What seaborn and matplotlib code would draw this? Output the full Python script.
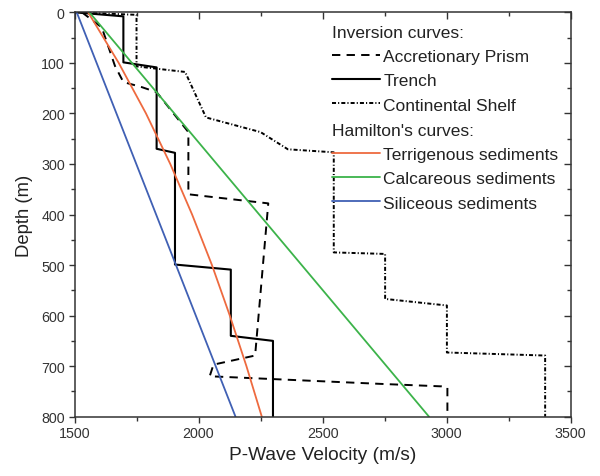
import matplotlib
matplotlib.use("Agg")
import matplotlib.pyplot as plt
import pandas as pd
import seaborn as sns
from matplotlib.ticker import MultipleLocator

# Inversion curves: P-wave velocity (m/s) against depth (m)
prism_velocity = [1530, 1610, 1663, 1697, 1771, 1831, 1959, 1959, 2281, 2228,
                  2060, 2045, 2730, 2980, 3003, 3003]
prism_depth = [0, 30, 106, 138, 148, 158, 237, 360, 378, 679,
               697, 720, 735, 740, 742, 800]

trench_velocity = [1500, 1697, 1697, 1831, 1831, 1905, 1905, 2130, 2130, 2300, 2300]
trench_depth = [0, 8, 99, 109, 270, 278, 499, 509, 640, 650, 800]

shelf_velocity = [1500, 1750, 1750, 1946, 2030, 2250, 2360, 2545, 2545, 2752,
                  2752, 3001, 3001, 3397, 3397]
shelf_depth = [0, 5, 107, 118, 208, 237, 271, 277, 475, 478,
               567, 580, 673, 679, 800]

# Hamilton's curves
terrigenous_depth = [0, 100, 200, 300, 400, 500, 600, 700, 800]
terrigenous_velocity = [1555, 1678, 1788, 1886, 1974, 2054, 2126, 2193, 2255]

calcareous_depth = [0, 800]
calcareous_velocity = [1560, 2929]

siliceous_depth = [0, 800]
siliceous_velocity = [1509, 2149]

sns.set_theme(style="ticks")
plt.rcParams["font.family"] = ["Liberation Sans", "DejaVu Sans"]
plt.rcParams["lines.scale_dashes"] = False

fig = plt.figure(figsize=(6.0, 4.77), dpi=100)
ax = fig.add_axes([74.5 / 600, 1 - 417.7 / 477, (570.7 - 74.5) / 600, (417.7 - 13.3) / 477])

series = [
    ("Accretionary Prism", prism_velocity, prism_depth, "black", (0, (6, 4.5)), 1.4),
    ("Trench", trench_velocity, trench_depth, "black", "-", 1.5),
    ("Continental Shelf", shelf_velocity, shelf_depth, "black", (0, (2.9, 1.5, 0.8, 1.5)), 1.4),
    ("Terrigenous sediments", terrigenous_velocity, terrigenous_depth, "#ee6a3f", "-", 1.3),
    ("Calcareous sediments", calcareous_velocity, calcareous_depth, "#3cb34a", "-", 1.3),
    ("Siliceous sediments", siliceous_velocity, siliceous_depth, "#4060b4", "-", 1.3),
]

handles = {}
for name, vel, dep, color, ls, lw in series:
    df = pd.DataFrame({"velocity": vel, "depth": dep})
    sns.lineplot(data=df, x="velocity", y="depth", sort=False, estimator=None,
                 color=color, linestyle=ls, linewidth=lw, ax=ax, label=name, legend=False)
    handles[name] = ax.get_lines()[-1]

ax.set_xlim(1500, 3500)
ax.set_ylim(800, 0)
ax.xaxis.set_major_locator(MultipleLocator(500))
ax.xaxis.set_minor_locator(MultipleLocator(250))
ax.yaxis.set_major_locator(MultipleLocator(100))
ax.yaxis.set_minor_locator(MultipleLocator(50))

for side in ["left", "right", "top", "bottom"]:
    ax.spines[side].set_visible(True)
    ax.spines[side].set_color("#333333")
    ax.spines[side].set_linewidth(1.1)

ax.tick_params(which="both", direction="out", color="#333333", width=1.0,
               labelsize=10.3, labelcolor="#333333", pad=3)
ax.tick_params(which="major", length=4)
ax.tick_params(which="minor", length=3)
# mirrored inward ticks on the top and right edges
sec_x = ax.secondary_xaxis("top")
sec_x.xaxis.set_major_locator(MultipleLocator(500))
sec_x.xaxis.set_minor_locator(MultipleLocator(250))
sec_x.tick_params(which="both", direction="in", labeltop=False, color="#333333", width=1.0)
sec_x.tick_params(which="major", length=5)
sec_x.tick_params(which="minor", length=3)
sec_x.spines["top"].set_visible(False)
sec_y = ax.secondary_yaxis("right")
sec_y.yaxis.set_major_locator(MultipleLocator(100))
sec_y.yaxis.set_minor_locator(MultipleLocator(50))
sec_y.tick_params(which="both", direction="in", labelright=False, color="#333333", width=1.0)
sec_y.tick_params(which="major", length=5)
sec_y.tick_params(which="minor", length=3)
sec_y.spines["right"].set_visible(False)

ax.set_xlabel("P-Wave Velocity (m/s)", fontsize=13.8, color="#222222", labelpad=4)
ax.set_ylabel("Depth (m)", fontsize=13.3, color="#222222", labelpad=6)

legend_kw = dict(loc="upper left", frameon=False, fontsize=12.5, title_fontsize=12.5,
                 alignment="left", borderpad=0, borderaxespad=0, handlelength=2.75,
                 handletextpad=0.2, labelspacing=0.52, bbox_transform=fig.transFigure)

inv_names = ["Accretionary Prism", "Trench", "Continental Shelf"]
leg1 = ax.legend([handles[n] for n in inv_names], inv_names, title="Inversion curves:",
                 bbox_to_anchor=(332 / 600, 1 - 26 / 477), **legend_kw)
ax.add_artist(leg1)
ham_names = ["Terrigenous sediments", "Calcareous sediments", "Siliceous sediments"]
leg2 = ax.legend([handles[n] for n in ham_names], ham_names, title="Hamilton's curves:",
                 bbox_to_anchor=(332 / 600, 1 - 124 / 477), **legend_kw)
for lg in (leg1, leg2):
    lg.get_title().set_color("#222222")
    for t in lg.get_texts():
        t.set_color("#222222")

fig.savefig("out.png", dpi=100)
